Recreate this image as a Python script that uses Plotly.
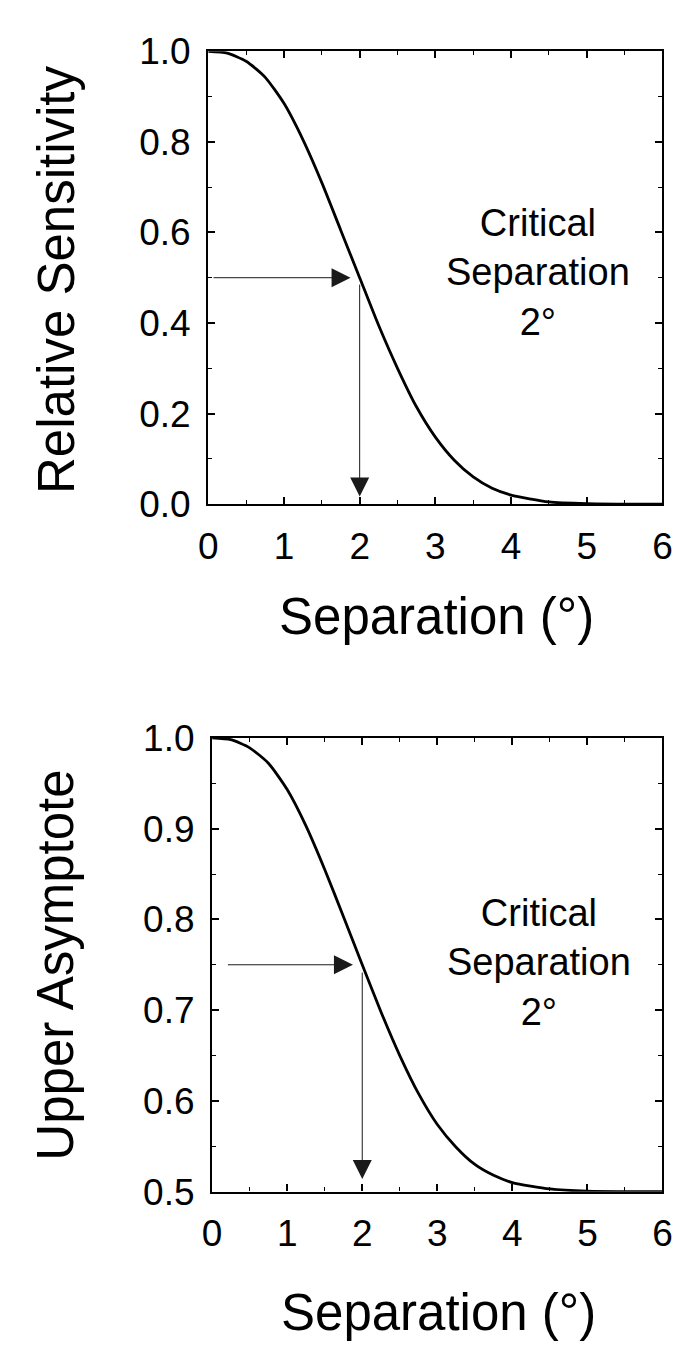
import plotly.graph_objects as go

# ---- data ----
separation = [0, 0.25, 0.5, 0.75, 1.0, 1.25, 1.5, 1.75, 2.0, 2.25, 2.5, 2.75,
              3.0, 3.25, 3.5, 3.75, 4.0, 4.5, 5.0, 5.5, 6.0]
rel_sensitivity = [1.000, 0.996, 0.978, 0.943, 0.885, 0.805, 0.710, 0.605, 0.500,
                   0.395, 0.300, 0.215, 0.148, 0.097, 0.060, 0.035, 0.020, 0.005,
                   0.001, 0.000, 0.000]
upper_asymptote = [1.000, 0.998, 0.989, 0.972, 0.943, 0.903, 0.855, 0.803, 0.750,
                   0.698, 0.650, 0.608, 0.574, 0.549, 0.530, 0.518, 0.510, 0.503,
                   0.5005, 0.500, 0.500]

critical_sep = 2.0
top_level = 0.5
bottom_level = 0.75
x_ticks = [0, 1, 2, 3, 4, 5, 6]
top_y_ticks = [0.0, 0.2, 0.4, 0.6, 0.8, 1.0]
bottom_y_ticks = [0.5, 0.6, 0.7, 0.8, 0.9, 1.0]
note_text = "Critical<br>Separation<br>2°"

W, H = 681, 1355
FONT = "Liberation Sans, Arial, Helvetica, sans-serif"

def px(v):
    return v / W

def py(v):
    return 1 - v / H

fig = go.Figure()
fig.add_trace(go.Scatter(x=separation, y=rel_sensitivity, mode="lines",
                         line=dict(color="black", width=2.8, shape="spline", smoothing=0.6),
                         xaxis="x", yaxis="y", showlegend=False))
fig.add_trace(go.Scatter(x=separation, y=upper_asymptote, mode="lines",
                         line=dict(color="black", width=2.8, shape="spline", smoothing=0.6),
                         xaxis="x2", yaxis="y2", showlegend=False))

common_axis = dict(showline=True, linecolor="black", linewidth=2.4, mirror="ticks",
                   ticks="inside", ticklen=7, tickwidth=1.6, tickcolor="black",
                   showgrid=False, zeroline=False,
                   tickfont=dict(family=FONT, size=37, color="black"))

xaxis_common = dict(common_axis, range=[0, 6], tickvals=x_ticks, ticklabelstandoff=8,
                    minor=dict(dtick=0.5, tick0=0, ticks="inside", ticklen=4,
                               tickwidth=1.4, tickcolor="black"))

fig.update_layout(
    width=W, height=H, margin=dict(l=0, r=0, t=0, b=0),
    paper_bgcolor="white", plot_bgcolor="white",
    xaxis=dict(xaxis_common, domain=[px(196), px(664)], anchor="y"),
    yaxis=dict(common_axis, range=[0, 1], tickvals=top_y_ticks, tickformat=".1f",
               ticklabelstandoff=8, domain=[py(491), py(24)], anchor="x",
               minor=dict(dtick=0.1, tick0=0, ticks="inside", ticklen=4,
                          tickwidth=1.4, tickcolor="black")),
    xaxis2=dict(xaxis_common, domain=[px(200), px(664)], anchor="y2"),
    yaxis2=dict(common_axis, range=[0.5, 1], tickvals=bottom_y_ticks, tickformat=".1f",
                ticklabelstandoff=8, domain=[py(1200), py(732)], anchor="x2",
                minor=dict(dtick=0.05, tick0=0.5, ticks="inside", ticklen=4,
                           tickwidth=1.4, tickcolor="black")),
)

annos = []
# axis titles
for (xc, yc, txt, ang) in [
    (431, 607, "Separation (°)", 0),
    (433, 1325, "Separation (°)", 0),
    (39, 260, "Relative Sensitivity", -90),
    (39, 966, "Upper Asymptote", -90),
]:
    annos.append(dict(x=px(xc), y=py(yc), xref="paper", yref="paper", text=txt,
                      showarrow=False, textangle=ang, xanchor="center", yanchor="middle",
                      font=dict(family=FONT, size=51, color="black")))

# notes
annos.append(dict(x=4.35, y=0.512, xref="x", yref="y", text=note_text, showarrow=False,
                  xanchor="center", yanchor="middle", align="center",
                  font=dict(family=FONT, size=38, color="black")))
annos.append(dict(x=4.35, y=0.752, xref="x2", yref="y2", text=note_text, showarrow=False,
                  xanchor="center", yanchor="middle", align="center",
                  font=dict(family=FONT, size=38, color="black")))

arrow_style = dict(showarrow=True, arrowhead=2, arrowsize=3.8, arrowwidth=1.0,
                   arrowcolor="#1a1a1a", text="")

def add_arrow(xr, yr, x_tip, y_tip, x_tail, y_tail):
    annos.append(dict(arrow_style, x=x_tip, y=y_tip, xref=xr, yref=yr,
                      ax=x_tail, ay=y_tail, axref=xr, ayref=yr))

# top arrows
add_arrow("x", "y", 1.88, top_level, 0.05, top_level)
add_arrow("x", "y", critical_sep, 0.017, critical_sep, 0.488)
# bottom arrows
add_arrow("x2", "y2", 1.876, bottom_level, 0.19, bottom_level)
add_arrow("x2", "y2", critical_sep, 0.514, critical_sep, 0.743)

fig.update_layout(annotations=annos)
fig.write_html("out.html")
